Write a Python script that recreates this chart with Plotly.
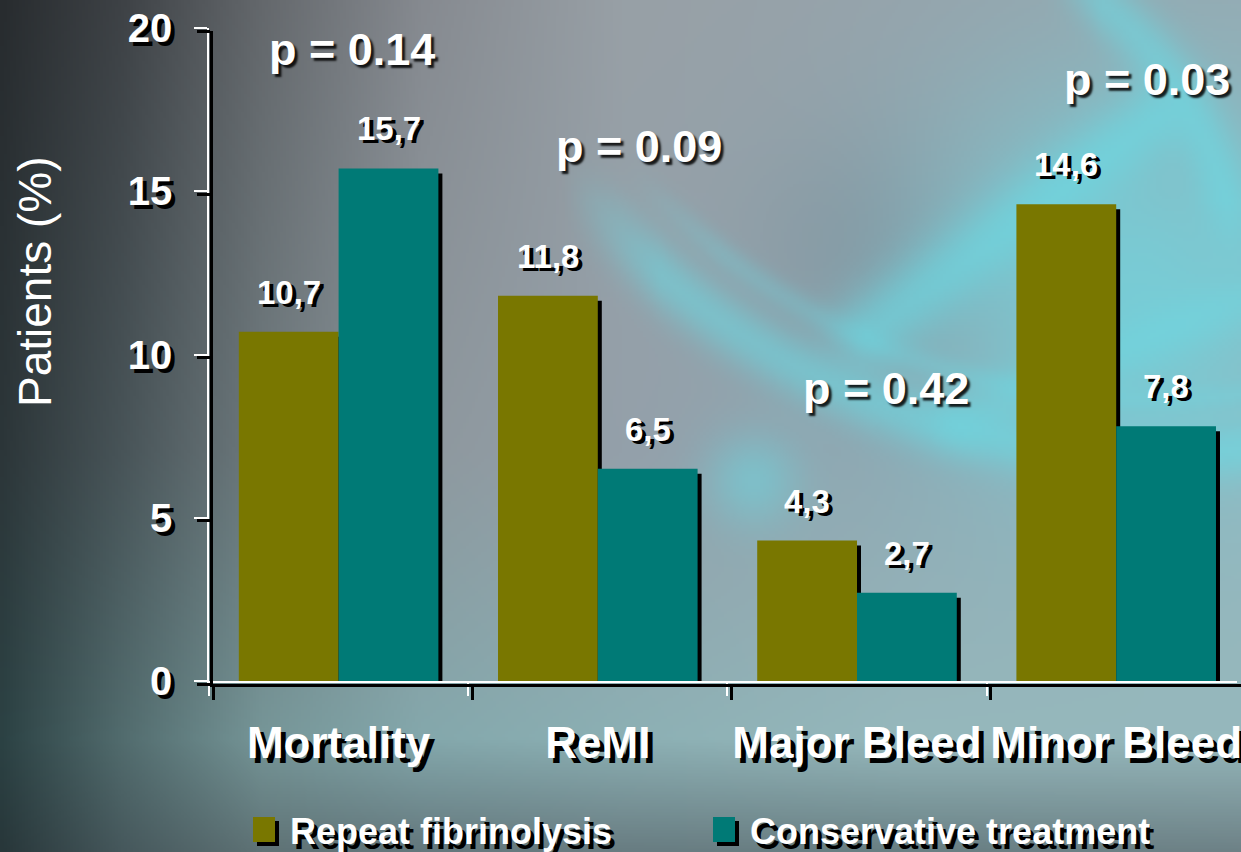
import base64
import struct
import zlib

import numpy as np
import plotly.graph_objects as go

# ---- data -------------------------------------------------------------
categories = ["Mortality", "ReMI", "Major Bleed", "Minor Bleed"]
series_names = ["Repeat fibrinolysis", "Conservative treatment"]
repeat_fibrinolysis = [10.7, 11.8, 4.3, 14.6]
conservative_treatment = [15.7, 6.5, 2.7, 7.8]
p_values = ["p = 0.14", "p = 0.09", "p = 0.42", "p = 0.03"]
y_ticks = [0, 5, 10, 15, 20]

# ---- page geometry ----------------------------------------------------
FIG_W, FIG_H = 1241, 852
L, T = 209, 28
W = FIG_W - L           # plot width (px)
PLOT_BOTTOM = 684
H = PLOT_BOTTOM - T     # plot height (px)
SHIFT_X, SHIFT_Y = 4, 3  # offset of the dark "shadow" axes
CAT_PX = 259.2           # width of one category in px
Y_PX = (H - SHIFT_Y) / 20.0

X_RANGE = [-0.5, -0.5 + (W - SHIFT_X) / CAT_PX]


def px_x(px):
    return (px - L) / W


def px_y(py):
    return (PLOT_BOTTOM - py) / H


FONT = "Liberation Sans, Arial, sans-serif"
OLIVE = "#797700"
TEAL = "#007a76"
BAR_W = 0.385


# ---- background artwork ----------------------------------------------
def make_png(rgb):
    h, w, _ = rgb.shape
    raw = b"".join(b"\x00" + rgb[r].tobytes() for r in range(h))

    def chunk(tag, data):
        c = struct.pack(">I", len(data)) + tag + data
        return c + struct.pack(">I", zlib.crc32(tag + data) & 0xFFFFFFFF)

    return (b"\x89PNG\r\n\x1a\n"
            + chunk(b"IHDR", struct.pack(">IIBBBBB", w, h, 8, 2, 0, 0, 0))
            + chunk(b"IDAT", zlib.compress(raw, 9))
            + chunk(b"IEND", b""))


def background():
    s = 3
    gw, gh = FIG_W // s + 1, FIG_H // s + 1
    X, Y = np.meshgrid(np.arange(gw) * s, np.arange(gh) * s)
    xs = [0, 120, 260, 420, 620, 900, 1241]
    rows = {
        0: [(40, 44, 47), (62, 66, 70), (100, 104, 108), (134, 138, 144),
            (152, 160, 166), (150, 164, 172), (150, 170, 178)],
        450: [(44, 54, 57), (72, 84, 88), (110, 122, 126), (142, 152, 158),
              (148, 160, 170), (145, 168, 178), (150, 180, 188)],
        740: [(44, 66, 68), (82, 108, 110), (118, 150, 152), (132, 168, 172),
              (140, 176, 180), (150, 184, 188), (150, 184, 188)],
        852: [(40, 55, 58), (70, 88, 92), (95, 115, 118), (100, 120, 125),
              (105, 125, 130), (105, 128, 132), (110, 130, 135)],
    }
    ys = sorted(rows)
    row_imgs = []
    for yk in ys:
        cols = np.array(rows[yk], dtype=float)
        row_imgs.append(np.stack([np.interp(X[0], xs, cols[:, c]) for c in range(3)], -1))
    img = np.zeros((gh, gw, 3))
    ycol = Y[:, 0]
    for c in range(3):
        stack = np.stack([r[:, c] for r in row_imgs], 0)
        for j in range(gw):
            img[:, j, c] = np.interp(ycol, ys, stack[:, j])

    cyan = np.array([104, 222, 232], dtype=float)

    def blend(alpha, col=cyan):
        a = np.clip(alpha, 0, 1)[..., None]
        img[:] = img * (1 - a) + col * a

    def ramp(v, lo, hi):
        return np.clip((v - lo) / (hi - lo), 0, 1)

    def segment(x0, y0, x1, y1):
        vx, vy = x1 - x0, y1 - y0
        t = np.clip(((X - x0) * vx + (Y - y0) * vy) / (vx * vx + vy * vy), 0, 1)
        return np.hypot(X - (x0 + t * vx), Y - (y0 + t * vy))

    # darker slate patch behind the middle
    blend(0.25 * np.exp(-(((X - 860) / 110.0) ** 2 + ((Y - 250) / 120.0) ** 2)),
          np.array([105, 115, 128], dtype=float))
    # cyan glow on the right
    blend(0.62 * np.exp(-(((X - 1130) / 200.0) ** 2 + ((Y - 290) / 200.0) ** 2)))
    # long swoosh from the ReMI area down towards Minor Bleed
    d = np.abs(np.hypot(X - 1150, Y + 300) - 755)
    blend(0.50 * np.exp(-(d / 30.0) ** 2) * ramp(X, 560, 660) * ramp(Y, 120, 200))
    d = np.abs(np.hypot(X - 1150, Y + 300) - 700)
    blend(0.25 * np.exp(-(d / 14.0) ** 2) * ramp(X, 620, 720) * ramp(Y, 120, 200))
    # arc in the top-right corner
    d = np.abs(np.hypot(X - 880, Y - 280) - 355)
    blend(0.50 * np.exp(-(d / 28.0) ** 2) * ramp(X, 1040, 1100) * (1 - ramp(Y, 200, 280)))
    # diagonal light bands
    blend(0.55 * np.exp(-(segment(870, 330, 1150, 120) / 38.0) ** 2))
    blend(0.35 * np.exp(-(segment(960, 420, 1241, 300) / 30.0) ** 2))
    # tilted glassy tile
    blend(0.45 * np.exp(-(((X - 752) / 48.0) ** 2 + ((Y - 480) / 48.0) ** 2)))

    rgb = np.clip(img, 0, 255).astype(np.uint8)
    return "data:image/png;base64," + base64.b64encode(make_png(rgb)).decode()


# ---- traces -----------------------------------------------------------
shadow_dx = SHIFT_X / CAT_PX
shadow_dy = 5 / Y_PX

fig = go.Figure()
series = [(repeat_fibrinolysis, OLIVE, -BAR_W), (conservative_treatment, TEAL, 0.0)]

# drop shadows first, so the coloured bars sit on top
for values, _, off in series:
    fig.add_trace(go.Bar(
        x=categories, y=values, base=[-shadow_dy] * len(values),
        offset=off + shadow_dx, width=BAR_W,
        marker=dict(color="black", line=dict(width=0)),
        hoverinfo="skip", showlegend=False,
    ))
for (values, color, off), name in zip(series, series_names):
    fig.add_trace(go.Bar(
        x=categories, y=values, name=name,
        offset=off, width=BAR_W,
        marker=dict(color=color, line=dict(width=0)),
        showlegend=False,
    ))

# invisible anchor for the dark shadow axes
fig.add_trace(go.Scatter(
    x=categories, y=[0] * len(categories), xaxis="x2", yaxis="y2",
    mode="markers", marker=dict(size=1, opacity=0),
    hoverinfo="skip", showlegend=False,
))

annotations = []

# value labels above each bar
for (values, _, off) in series:
    for i, v in enumerate(values):
        annotations.append(dict(
            x=i + off + BAR_W / 2, y=v, xref="x", yref="y",
            text=f"{v:.1f}".replace(".", ","), showarrow=False,
            xanchor="center", yanchor="bottom", yshift=19,
            font=dict(family=FONT, size=33, color="white", weight="bold",
                      shadow="4px 3px 0px black"),
        ))

# p-values
p_pos = [(0.05, 19.33), (1.16, 16.36), (2.11, 8.97), (3.12, 18.41)]
for (px_, py_), txt in zip(p_pos, p_values):
    annotations.append(dict(
        x=px_, y=py_, xref="x", yref="y", text=txt, showarrow=False,
        xanchor="center", yanchor="middle",
        font=dict(family=FONT, size=45, color="white", weight="bold",
                  shadow="3px 3px 2px rgba(0,0,0,0.85)"),
    ))

# y-axis title
annotations.append(dict(
    x=px_x(35), y=px_y(282), xref="paper", yref="paper",
    xanchor="center", yanchor="middle",
    text="Patients (%)", textangle=-90, showarrow=False,
    font=dict(family=FONT, size=46, color="white"),
))

# legend
shapes = []
legend_items = [(253, 288, OLIVE), (713, 748, TEAL)]
for (sx, tx, color), name in zip(legend_items, series_names):
    shapes.append(dict(type="rect", xref="paper", yref="paper",
                       x0=px_x(sx + 4), x1=px_x(sx + 26), y0=px_y(821), y1=px_y(846),
                       fillcolor="black", line=dict(width=0), layer="above"))
    shapes.append(dict(type="rect", xref="paper", yref="paper",
                       x0=px_x(sx), x1=px_x(sx + 22), y0=px_y(817), y1=px_y(842),
                       fillcolor=color, line=dict(width=0), layer="above"))
    annotations.append(dict(
        x=px_x(tx), y=px_y(831), xref="paper", yref="paper",
        xanchor="left", yanchor="middle", text=name, showarrow=False,
        font=dict(family=FONT, size=36, color="white", weight="bold",
                  shadow="4px 5px 0px black"),
    ))

axis_common = dict(showgrid=False, zeroline=False, showline=True,
                   ticks="outside", ticklen=13, automargin=False)

fig.update_layout(
    width=FIG_W, height=FIG_H, autosize=False,
    margin=dict(l=L, r=0, t=T, b=FIG_H - PLOT_BOTTOM, pad=0, autoexpand=False),
    paper_bgcolor="#8a9298", plot_bgcolor="rgba(0,0,0,0)",
    barmode="overlay",
    showlegend=False,
    xaxis=dict(**axis_common, type="category", categoryarray=categories,
               tickson="boundaries", range=X_RANGE, tickangle=0,
               domain=[0, 1 - SHIFT_X / W], anchor="y",
               linecolor="white", linewidth=1.5, tickcolor="white", tickwidth=1.5,
               ticklabelstandoff=22,
               tickfont=dict(family=FONT, size=44, color="white", weight="bold",
                             shadow="5px 5px 0px black")),
    yaxis=dict(**axis_common, range=[0, 20], tickvals=y_ticks,
               domain=[SHIFT_Y / H, 1], anchor="x",
               linecolor="white", linewidth=1.5, tickcolor="white", tickwidth=1.5,
               ticklabelstandoff=14,
               tickfont=dict(family=FONT, size=40, color="white", weight="bold",
                             shadow="4px 4px 0px black")),
    xaxis2=dict(**axis_common, type="category", categoryarray=categories,
                tickson="boundaries", range=X_RANGE,
                domain=[SHIFT_X / W, 1], anchor="y2",
                linecolor="black", linewidth=2.5, tickcolor="black", tickwidth=2.5,
                showticklabels=False, layer="below traces"),
    yaxis2=dict(**axis_common, range=[0, 20], tickvals=y_ticks,
                domain=[0, 1 - SHIFT_Y / H], anchor="x2",
                linecolor="black", linewidth=2.5, tickcolor="black", tickwidth=2.5,
                showticklabels=False, layer="below traces"),
    annotations=annotations,
    shapes=shapes,
    images=[dict(source=background(), xref="paper", yref="paper",
                 x=px_x(0), y=px_y(0), sizex=FIG_W / W, sizey=FIG_H / H,
                 xanchor="left", yanchor="top", sizing="stretch", layer="below")],
)

fig.write_html("out.html")
